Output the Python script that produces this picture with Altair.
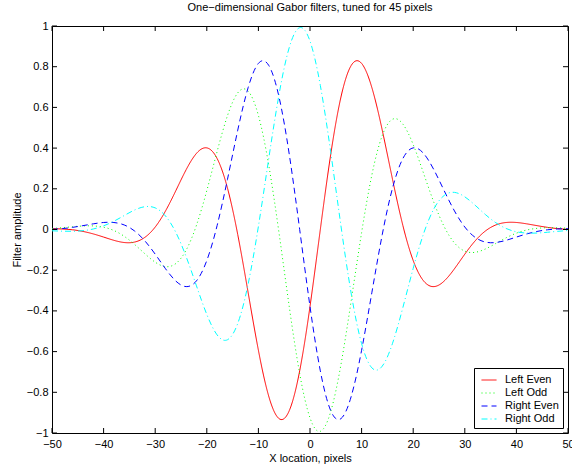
import altair as alt
import pandas as pd

# ---- data ----
x_vals = list(range(-50, 51, 2))

left_even = [0.0039, 0.0025, -0.0015, -0.0095, -0.0217, -0.0372, -0.0532, -0.0640, -0.0618, -0.0385,
             0.0121, 0.0911, 0.1909, 0.2940, 0.3741, 0.4011, 0.3488, 0.2042, -0.0253, -0.3083,
             -0.5934, -0.8191, -0.9294, -0.8891, -0.6946, -0.3783, 0.0, 0.3662, 0.6510, 0.8066,
             0.8162, 0.6964, 0.4884, 0.2457, 0.0195, -0.1525, -0.2522, -0.2807, -0.2534, -0.1928,
             -0.1212, -0.0560, -0.0072, 0.0222, 0.0344, 0.0345, 0.0278, 0.0189, 0.0106, 0.0045,
             0.0007]

left_odd = [0.0050, 0.0090, 0.0136, 0.0173, 0.0176, 0.0113, -0.0050, -0.0335, -0.0733, -0.1192,
            -0.1606, -0.1824, -0.1673, -0.1012, 0.0212, 0.1910, 0.3833, 0.5589, 0.6715, 0.6801,
            0.5607, 0.3169, -0.0175, -0.3831, -0.7081, -0.9257, -0.9919, -0.8962, -0.6636, -0.3475,
            -0.0153, 0.2694, 0.4615, 0.5419, 0.5179, 0.4173, 0.2771, 0.1337, 0.0143, -0.0663,
            -0.1062, -0.1121, -0.0956, -0.0687, -0.0408, -0.0180, -0.0026, 0.0057, 0.0086, 0.0082,
            0.0063]

right_even = [0.0007, 0.0045, 0.0106, 0.0189, 0.0278, 0.0345, 0.0344, 0.0222, -0.0072, -0.0560,
              -0.1212, -0.1928, -0.2534, -0.2807, -0.2522, -0.1525, 0.0195, 0.2457, 0.4884, 0.6964,
              0.8162, 0.8066, 0.6510, 0.3662, 0.0, -0.3783, -0.6946, -0.8891, -0.9294, -0.8191,
              -0.5934, -0.3083, -0.0253, 0.2042, 0.3488, 0.4011, 0.3741, 0.2940, 0.1909, 0.0911,
              0.0121, -0.0385, -0.0618, -0.0640, -0.0532, -0.0372, -0.0217, -0.0095, -0.0015, 0.0025,
              0.0039]

right_odd = [-0.0063, -0.0082, -0.0086, -0.0057, 0.0026, 0.0180, 0.0408, 0.0687, 0.0956, 0.1121,
             0.1062, 0.0663, -0.0143, -0.1337, -0.2771, -0.4173, -0.5179, -0.5419, -0.4615, -0.2694,
             0.0153, 0.3475, 0.6636, 0.8962, 0.9919, 0.9257, 0.7081, 0.3831, 0.0175, -0.3169,
             -0.5607, -0.6801, -0.6715, -0.5589, -0.3833, -0.1910, -0.0212, 0.1012, 0.1673, 0.1824,
             0.1606, 0.1192, 0.0733, 0.0335, 0.0050, -0.0113, -0.0176, -0.0173, -0.0136, -0.0090,
             -0.0050]

series_names = ["Left Even", "Left Odd", "Right Even", "Right Odd"]
series_colors = ["#ff0000", "#00ff00", "#0000ff", "#00ffff"]
series_dashes = [[1, 0], [1, 3], [6, 4], [6, 3, 1, 3]]

x_ticks = [-50, -40, -30, -20, -10, 0, 10, 20, 30, 40, 50]
y_ticks = [-1, -0.8, -0.6, -0.4, -0.2, 0, 0.2, 0.4, 0.6, 0.8, 1]

title_text = "One\u2212dimensional Gabor filters, tuned for 45 pixels"
x_title = "X location, pixels"
y_title = "Filter amplitude"

# ---- build table ----
rows = []
for name, ys in zip(series_names, [left_even, left_odd, right_even, right_odd]):
    for i, (xv, yv) in enumerate(zip(x_vals, ys)):
        rows.append({"x": xv, "y": yv, "series": name, "idx": i})
df = pd.DataFrame(rows)
xt = pd.DataFrame({"x": x_ticks})
yt = pd.DataFrame({"y": y_ticks})

W, H = 516, 407
FONT = "Liberation Sans"
TICK = 5

xscale = alt.Scale(domain=[-50, 50], nice=False, zero=False)
yscale = alt.Scale(domain=[-1, 1], nice=False, zero=False)

legend = alt.Legend(
    title=None, orient="bottom-right", offset=5,
    strokeColor="black", fillColor="white", padding=4, cornerRadius=0,
    symbolType="stroke", symbolSize=225, symbolStrokeWidth=1, symbolOffset=3,
    labelFont=FONT, labelFontSize=11, labelColor="black", labelOffset=8, labelAlign="left",
    rowPadding=0,
)

lines = alt.Chart(df).mark_line(strokeWidth=1, interpolate="natural", clip=True).encode(
    x=alt.X("x:Q", scale=xscale,
            axis=alt.Axis(values=x_ticks, title=x_title, ticks=False, domain=False, grid=False,
                          labelFlush=False, labelOverlap=False, labelPadding=5, format="d",
                          titlePadding=3)),
    y=alt.Y("y:Q", scale=yscale,
            axis=alt.Axis(values=y_ticks, title=y_title, ticks=False, domain=False, grid=False,
                          labelOverlap=False, labelPadding=4, format="~g", titlePadding=4)),
    color=alt.Color("series:N", scale=alt.Scale(domain=series_names, range=series_colors), legend=legend),
    strokeDash=alt.StrokeDash("series:N", scale=alt.Scale(domain=series_names, range=series_dashes), legend=legend),
    order=alt.Order("idx:Q"),
)

tick_style = dict(color="black", strokeWidth=1)
xb = alt.Chart(xt).mark_rule(**tick_style).encode(
    x=alt.X("x:Q", scale=xscale), y=alt.value(H), y2=alt.value(H - TICK))
xtp = alt.Chart(xt).mark_rule(**tick_style).encode(
    x=alt.X("x:Q", scale=xscale), y=alt.value(0), y2=alt.value(TICK))
yl = alt.Chart(yt).mark_rule(**tick_style).encode(
    y=alt.Y("y:Q", scale=yscale), x=alt.value(0), x2=alt.value(TICK))
yr = alt.Chart(yt).mark_rule(**tick_style).encode(
    y=alt.Y("y:Q", scale=yscale), x=alt.value(W), x2=alt.value(W - TICK))

chart = alt.layer(lines, xb, xtp, yl, yr).properties(
    width=W, height=H,
    title=alt.TitleParams(title_text, font=FONT, fontSize=11, fontWeight="normal",
                          color="black", anchor="middle", offset=7),
    autosize=alt.AutoSizeParams(type="none"),
    padding={"left": 52, "top": 26, "right": 4, "bottom": 31},
    background="white",
).configure_view(stroke="black", strokeWidth=1).configure_axis(
    labelFont=FONT, labelFontSize=11, labelColor="black",
    titleFont=FONT, titleFontSize=11, titleFontWeight="normal", titleColor="black",
)

chart.save("out.html", embed_options={"renderer": "svg", "actions": False})
